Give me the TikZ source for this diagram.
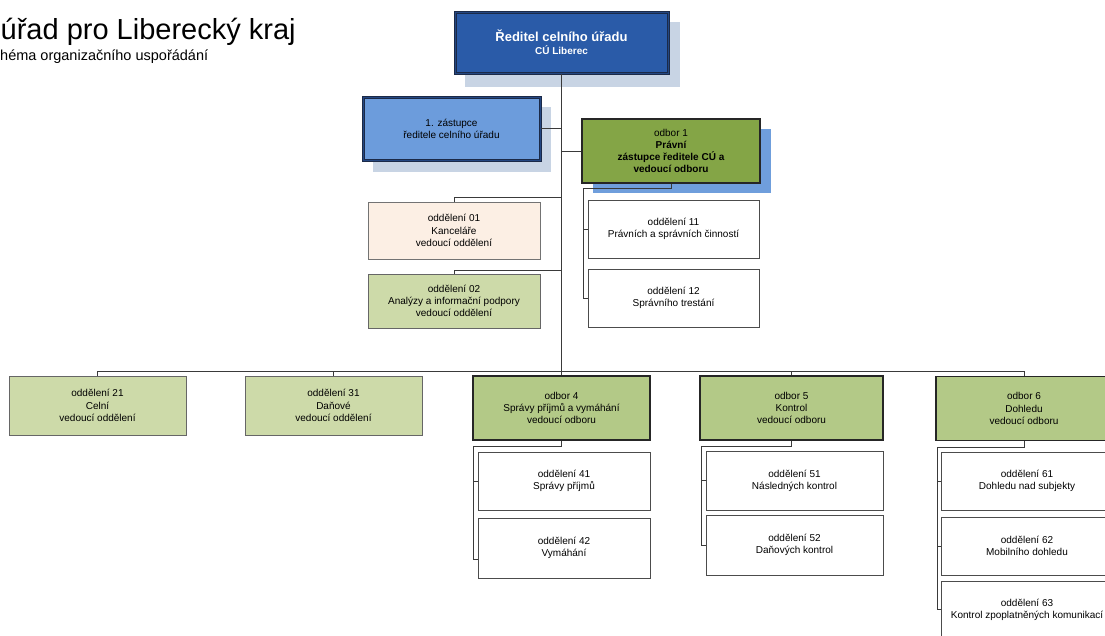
\documentclass[tikz,border=0pt]{standalone}
\usepackage{fontspec}
\setmainfont{Liberation Sans}
\usetikzlibrary{calc}
\definecolor{dirfill}{HTML}{2A5BA8}
\definecolor{dirline}{HTML}{1B2A48}
\definecolor{zastfill}{HTML}{6C9CDC}
\definecolor{odjfill}{HTML}{84A546}
\definecolor{bluesh}{HTML}{6F9EDC}
\definecolor{greysh}{HTML}{C8D4E4}
\definecolor{odfill}{HTML}{B3C987}
\definecolor{depfill}{HTML}{CDDAA9}
\definecolor{peach}{HTML}{FCEFE4}
\definecolor{conn}{HTML}{3A3A3A}
\tikzset{
  txt/.style={font=\fontsize{10}{12.2}\selectfont, align=center, inner sep=0pt},
  dirbox/.style={txt, draw=dirline, line width=1.1pt, double=dirline!40!dirfill, double distance=0.8pt, fill=dirfill, text=white},
  odbox/.style={txt, draw=black!85, line width=1.3pt, fill=odfill},
  depbox/.style={txt, draw=black!60, line width=0.7pt, fill=depfill},
  wbox/.style={txt, draw=black!70, line width=0.7pt, fill=white},
  conline/.style={draw=conn, line width=0.8pt},
}
\begin{document}
\begin{tikzpicture}[x=1pt,y=-1pt]
\clip (0,0) rectangle (1105,635);
\fill[white] (0,0) rectangle (1105,635);

% title
\node[anchor=base west, inner sep=0pt, font=\fontsize{29}{32}\selectfont] (title) at (0.5,39) {úřad pro Liberecký kraj};
\node[anchor=base west, inner sep=0pt, font=\fontsize{14.5}{16}\selectfont] (subtitle) at (0,60) {héma organizačního uspořádání};

% director
\fill[greysh] (465,22) rectangle (680,87);
\node[dirbox, minimum width=213pt, minimum height=61pt] (dir) at (561.5,42.5)
  {{\fontsize{13}{14}\selectfont\bfseries Ředitel celního úřadu}\\[1pt]{\bfseries CÚ Liberec}};

% deputy
\fill[greysh] (373,107) rectangle (551,172);
\node[dirbox, fill=zastfill, text=black, minimum width=177pt, minimum height=63pt] (zast) at (451.5,128.5)
  {1. zástupce\\ředitele celního úřadu};

% odbor 1
\fill[bluesh] (593,129) rectangle (771,193);
\node[odbox, fill=odjfill, minimum width=178pt, minimum height=64pt] (od1) at (671,151)
  {odbor 1\\\bfseries Právní\\\bfseries zástupce ředitele CÚ a\\\bfseries vedoucí odboru};

% odbor 1 departments
\node[wbox, minimum width=171pt, minimum height=58pt] (o11) at (673.5,229) {oddělení 11\\Právních a správních činností};
\node[wbox, minimum width=171pt, minimum height=58pt] (o12) at (673.5,298) {oddělení 12\\Správního trestání};

% staff departments
\node[wbox, fill=peach, draw=black!55, minimum width=172pt, minimum height=57pt] (o01) at (454,230.5) {oddělení 01\\Kanceláře\\vedoucí oddělení};
\node[depbox, minimum width=172pt, minimum height=54pt] (o02) at (454,301) {oddělení 02\\Analýzy a informační podpory\\vedoucí oddělení};

% bottom row
\node[depbox, minimum width=177pt, minimum height=59pt] (o21) at (97.5,405.5) {oddělení 21\\Celní\\vedoucí oddělení};
\node[depbox, minimum width=177pt, minimum height=59pt] (o31) at (333.5,405.5) {oddělení 31\\Daňové\\vedoucí oddělení};
\node[odbox, minimum width=177pt, minimum height=64pt] (od4) at (561.5,408) {odbor 4\\Správy příjmů a vymáhání\\vedoucí odboru};
\node[odbox, minimum width=183pt, minimum height=64pt] (od5) at (791.5,408) {odbor 5\\Kontrol\\vedoucí odboru};
\node[odbox, minimum width=176pt, minimum height=64pt] (od6) at (1024,408.5) {odbor 6\\Dohledu\\vedoucí odboru};

\node[wbox, minimum width=172pt, minimum height=58pt] (o41) at (564,481) {oddělení 41\\Správy příjmů};
\node[wbox, minimum width=172pt, minimum height=60pt] (o42) at (564,548) {oddělení 42\\Vymáhání};
\node[wbox, minimum width=177pt, minimum height=59pt] (o51) at (794.5,480.5) {oddělení 51\\Následných kontrol};
\node[wbox, minimum width=177pt, minimum height=60pt] (o52) at (794.5,545) {oddělení 52\\Daňových kontrol};
\node[wbox, minimum width=172pt, minimum height=58pt] (o61) at (1027,481) {oddělení 61\\Dohledu nad subjekty};
\node[wbox, minimum width=172pt, minimum height=58pt] (o62) at (1027,546) {oddělení 62\\Mobilního dohledu};
\node[wbox, minimum width=172pt, minimum height=58pt] (o63) at (1027,610) {oddělení 63\\Kontrol zpoplatněných komunikací};

% connectors
\coordinate (busL) at (97.5,371);
\coordinate (busR) at (1024,371);
\coordinate (t01) at (561.5,197);
\coordinate (t02) at (561.5,270);
\coordinate (s1) at (583,188);
\coordinate (s4) at (473,446);
\coordinate (s5) at (701,446);
\coordinate (s6) at (937,447);

\draw[conline] (dir.south) -- (dir.south |- busL);
\draw[conline] (busL) -- (busR);
\draw[conline] (zast.east) -- (zast.east -| dir.south);
\draw[conline] (od1.west) -- (od1.west -| dir.south);
\draw[conline] (o01.north) |- (t01);
\draw[conline] (o02.north) |- (t02);
\draw[conline] (od1.south) |- (s1);
\draw[conline] (s1) |- (o12.west);
\draw[conline] (s1 |- o11.west) -- (o11.west);
\foreach \n in {o21,o31,od4,od5,od6} \draw[conline] (\n.north) -- (\n.north |- busL);
\draw[conline] (od4.south) |- (s4);
\draw[conline] (s4) |- ($(o42.west)+(0,11)$);
\draw[conline] (s4 |- o41.west) -- (o41.west);
\draw[conline] (od5.south) |- (s5);
\draw[conline] (s5) |- (o52.west);
\draw[conline] (s5 |- o51.west) -- (o51.west);
\draw[conline] (od6.south) |- (s6);
\draw[conline] (s6) |- ($(o63.west)+(0,-1)$);
\draw[conline] (s6 |- o61.west) -- (o61.west);
\draw[conline] (s6 |- o62.west) -- (o62.west);
\end{tikzpicture}
\end{document}
